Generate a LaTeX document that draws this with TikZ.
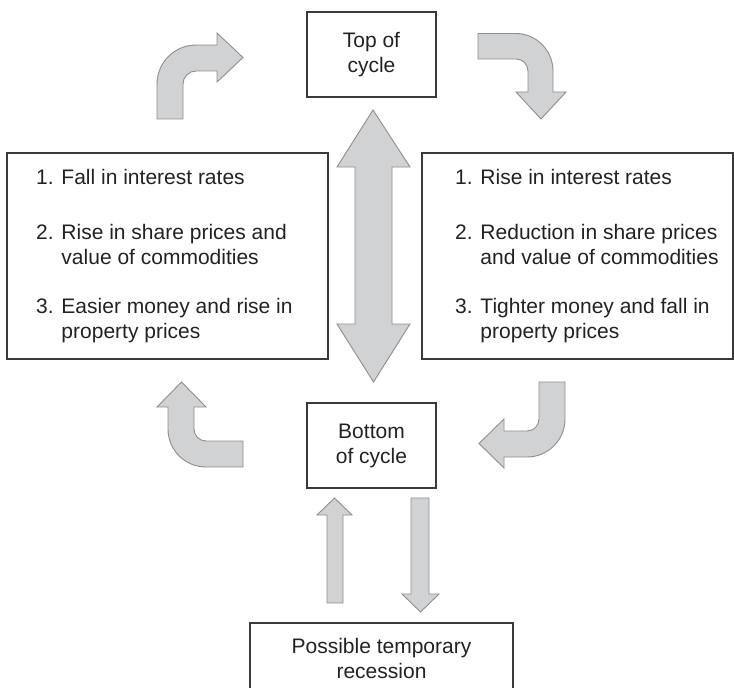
\documentclass[tikz,border=0pt]{standalone}
\usepackage{fontspec}
\setmainfont{Liberation Sans}
\definecolor{boxline}{HTML}{3A3A3A}
\definecolor{arrfill}{HTML}{D1D2D4}
\definecolor{arrline}{HTML}{8E8E8E}
\definecolor{txt}{HTML}{222222}
\tikzset{
  boxnode/.style={draw=boxline, line width=1.3bp, inner sep=0pt},
  blockarrow/.style={fill=arrfill, draw=arrline, line width=0.9bp, line join=miter},
  lbl/.style={inner sep=0pt, text=txt, font=\fontsize{21bp}{25bp}\selectfont},
}
\begin{document}
\begin{tikzpicture}[x=1bp,y=-1bp]
\useasboundingbox (0,0) rectangle (734,688);

% boxes
\node[boxnode, lbl, minimum width=129bp, minimum height=85bp, align=center] (top) at (371.5,54.5) {Top of\\cycle};
\node[boxnode, lbl, minimum width=129bp, minimum height=85bp, align=center] (bot) at (371.5,445.5) {Bottom\\of cycle};
\node[boxnode, minimum width=321bp, minimum height=206bp] (left) at (167.5,256) {};
\node[boxnode, minimum width=311bp, minimum height=206bp] (right) at (577.5,256) {};
\node[boxnode, lbl, minimum width=263bp, minimum height=70bp, align=center] (rec) at (381.5,658) {Possible temporary\\recession};

% box texts
\node[lbl, anchor=base west] (ltext) at (36,184) {\begin{tabular}[t]{@{}l@{}}1. Fall in interest rates\\[30bp]
2. Rise in share prices and\\
\hphantom{2. }value of commodities\\[24bp]
3. Easier money and rise in\\
\hphantom{3. }property prices\end{tabular}};
\node[lbl, anchor=base west] (rtext) at (455,184) {\begin{tabular}[t]{@{}l@{}}1. Rise in interest rates\\[30bp]
2. Reduction in share prices\\
\hphantom{2. }and value of commodities\\[24bp]
3. Tighter money and fall in\\
\hphantom{3. }property prices\end{tabular}};

% double arrow between top and bottom
\draw[blockarrow] (373,110) -- (410,167) -- (392,167) -- (392,324) -- (410,324)
  -- (373.5,382) -- (337,324) -- (355,324) -- (355,167) -- (337,167) -- cycle;

% top-left curved arrow
\draw[blockarrow] (157,119) -- (157,84) .. controls (157,62.5) and (174.5,45) .. (196,45)
  -- (217,45) -- (217,33) -- (243,57.5) -- (217,82) -- (217,71) -- (196,71)
  .. controls (188.8,71) and (183,76.8) .. (183,84) -- (183,119) -- cycle;

% top-right curved arrow
\draw[blockarrow] (478,33.5) -- (516,33.5) .. controls (536.4,33.5) and (553,50.6) .. (553,71)
  -- (553,92) -- (566,92) -- (541,119) -- (516,92) -- (528,92) -- (528,71)
  .. controls (528,64.4) and (522.6,59) .. (516,59) -- (478,59) -- cycle;

% bottom-left curved arrow
\draw[blockarrow] (168,407) -- (157,407) -- (181.5,382) -- (206,407) -- (194,407) -- (194,429)
  .. controls (194,435.6) and (199.4,441) .. (206,441) -- (243,441) -- (243,467) -- (206,467)
  .. controls (185,467) and (168,450) .. (168,429) -- cycle;

% bottom-right curved arrow
\draw[blockarrow] (539,382) -- (565,382) -- (565,419) .. controls (565,440) and (548,457) .. (527,457)
  -- (504,457) -- (504,468) -- (479,443.5) -- (504,419) -- (504,431) -- (527,431)
  .. controls (533.6,431) and (539,425.6) .. (539,419) -- cycle;

% small up and down arrows
\draw[blockarrow] (327,603) -- (327,515) -- (317,515) -- (334.5,498) -- (352,515) -- (343,515) -- (343,603) -- cycle;
\draw[blockarrow] (411,498) -- (429,498) -- (429,594) -- (439,594) -- (420.5,612) -- (402,594) -- (411,594) -- cycle;
\end{tikzpicture}
\end{document}
